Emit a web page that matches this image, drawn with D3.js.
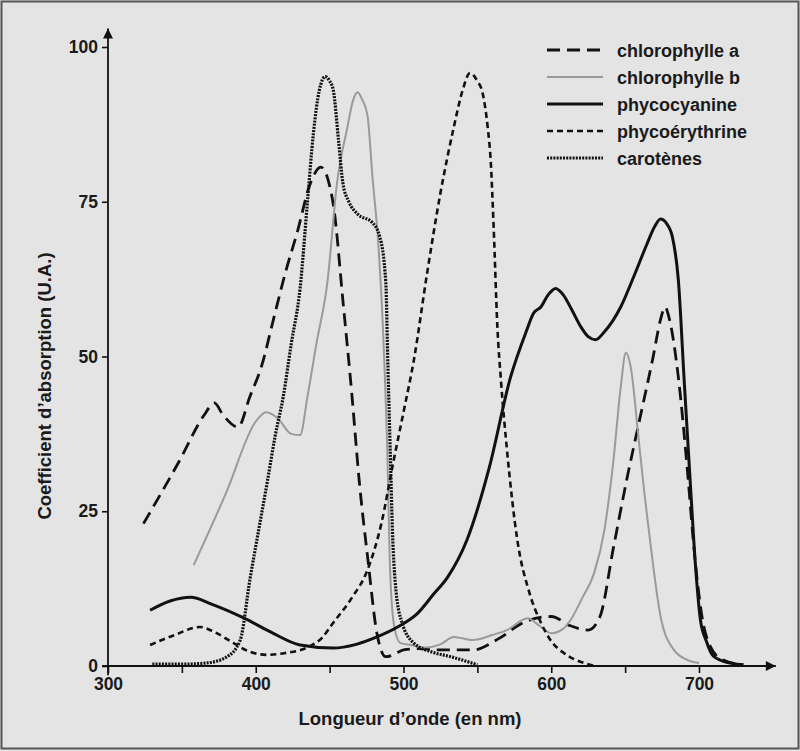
<!DOCTYPE html>
<html>
<head>
	<meta charset="utf-8">
	<title>Spectres d'absorption</title>
	<script src="https://d3js.org/d3.v7.min.js"></script>
	<style>
		body { margin: 0; background: #e4e4e4; }
		text { font-family: "Liberation Sans", Arial, sans-serif; font-weight: bold; fill: #1a1a1a; }
	</style>
</head>
<body>
</body>
<script>
	// wavelength (nm), absorption (U.A.)
	var chloroA = [[324,23],[348,33],[365,40.5],[372,42.5],[378,40.5],[388,38.6],[396,43.5],[404,48.5],[412,56],[420,63.5],[428,70],[437,78],[444,80.6],[449,78.5],[453,73.7],[459,59],[465,44],[470,30],[476,17],[482,5.3],[488,1.5],[493,1.8],[500,2.6],[510,2.8],[525,2.6],[547,2.6],[565,4.5],[581,7],[600,8],[613,6.5],[625,5.8],[633,8],[642,19],[651,30],[660,40],[669,50],[674,56],[677,58],[680,56],[686,46.7],[692,32],[697,18],[702,8],[708,3],[716,1],[730,0.2]];
	var chloroB = [[358,16.3],[380,28],[400,39.5],[407,41],[415,40],[424,37.5],[430,37.3],[435,43.5],[441,52],[448.5,62],[455,78],[462,87],[466,91.5],[469,92.7],[472,91.5],[475.6,89],[479,79],[483,68],[486,55],[489,35],[491,15],[494,6],[498,3.7],[505,3.4],[515,3],[525,3.5],[534,4.7],[547,4.2],[560,5],[570,5.8],[584,7.7],[592,6.5],[600,5.3],[608,6],[613,7.4],[621,11],[629,15],[636,22],[642,33],[647,45],[650.5,50.6],[654,48],[659,37],[663,28],[667,20],[674,8],[683,2.6],[692,1],[700,0.5]];
	var phycocyanine = [[328.5,9],[342,10.5],[356,11.1],[370,10],[391.5,7.8],[410,5.5],[430,3.4],[452.5,2.9],[468,3.5],[482,4.7],[496,6.3],[509.5,8.5],[520,11.5],[530,14.4],[543,20.4],[558,32],[572.5,46.7],[583,54],[588,57],[593,58],[598,60],[603,61],[608,60],[614,57.5],[620,54.8],[625,53.2],[630,52.7],[636,54],[647,58],[656,63],[665,68.3],[670,71],[674,72.2],[678,71.5],[682,69.3],[686,62.4],[690,46],[694,30],[698,15],[701,7.4],[705,4],[709,1.8],[716,0.8],[730,0.2]];
	var phycoerythrine = [[328.5,3.4],[345,5],[362,6.3],[372,5.5],[385,3.7],[396,2.3],[408,1.8],[420,2.1],[435,3],[445,4.6],[452.5,7],[465,11],[475.6,15.5],[485,23],[493,32.8],[500,41],[507,49.4],[516,63.5],[525,76.4],[534,87],[540,93],[545,95.8],[550,94.5],[553.5,92.6],[557,87],[559,81.7],[561,71],[563.5,55],[566,46],[570,35],[577,20.4],[585,12],[593,7],[600,4],[608.5,2.1],[622,0.5],[630,0]];
	var carotenes = [[330,0.3],[350,0.3],[367,0.5],[380.6,1.5],[389.5,4.2],[396,13.9],[402,22],[408,30],[413,37],[418.6,43.5],[424,52],[430,61],[435,75],[439,86],[443,93],[447,95.2],[450,94.5],[452.5,93],[456,85],[459,78],[463,75],[469,73],[479,71.6],[484,69.3],[488,62],[489.5,48],[491,35],[492.5,22],[495,12],[499,7],[507,3.7],[520,2.2],[532,1.5],[550,0.2]];

	var seriesNames = ["chlorophylle a", "chlorophylle b", "phycocyanine", "phycoérythrine", "carotènes"];
	var xTicks = [300, 350, 400, 450, 500, 550, 600, 650, 700];
	var xTickLabels = [300, 400, 500, 600, 700];
	var yTicks = [0, 25, 50, 75, 100];

	var width = 800, height = 751;
	var styles = [
		{stroke: "#111", width: 2.8, dash: "13,7"},
		{stroke: "#9a9a9a", width: 2, dash: null},
		{stroke: "#111", width: 3, dash: null},
		{stroke: "#111", width: 2.6, dash: "6,4"},
		{stroke: "#111", width: 3.2, dash: "2,1.2"}
	];
	var allData = [chloroA, chloroB, phycocyanine, phycoerythrine, carotenes];

	var svg = d3.select("body").append("svg").attr("width", width).attr("height", height);

	svg.append("rect").attr("x", 1.5).attr("y", 1.5).attr("width", width - 3).attr("height", height - 4)
		.attr("fill", "#e4e4e4").attr("stroke", "#555").attr("stroke-width", 2);

	var x = d3.scaleLinear().domain([300, 700]).range([108, 699]);
	var y = d3.scaleLinear().domain([0, 100]).range([666, 47]);

	// arrow heads
	var defs = svg.append("defs");
	defs.append("marker").attr("id", "arrow").attr("viewBox", "0 0 10 10").attr("refX", 10).attr("refY", 5)
		.attr("markerWidth", 14).attr("markerHeight", 10).attr("markerUnits", "userSpaceOnUse").attr("orient", "auto")
		.append("path").attr("d", "M0,0L10,5L0,10z").attr("fill", "#111");

	// axes
	var xAxis = d3.axisBottom(x).tickValues(xTicks).tickSize(7).tickPadding(5)
		.tickFormat(function(d){ return xTickLabels.indexOf(d) >= 0 ? d : ""; });
	var yAxis = d3.axisLeft(y).tickValues(yTicks).tickSize(6).tickPadding(4);

	var xAxisG = svg.append("g").attr("transform", "translate(0," + y(0) + ")").call(xAxis);
	var yAxisG = svg.append("g").attr("transform", "translate(" + x(300) + ",0)").call(yAxis);
	[xAxisG, yAxisG].forEach(function(g){
		g.select(".domain").remove();
		g.selectAll("line").attr("stroke", "#111").attr("stroke-width", 1.6);
		g.selectAll("text").attr("font-size", 17.5).attr("font-family", "Liberation Sans, Arial, sans-serif").attr("font-weight", "bold").attr("fill", "#1a1a1a");
	});

	svg.append("line").attr("x1", x(296)).attr("x2", x(752)).attr("y1", y(0)).attr("y2", y(0))
		.attr("stroke", "#111").attr("stroke-width", 1.8).attr("marker-end", "url(#arrow)");
	svg.append("line").attr("x1", x(300)).attr("x2", x(300)).attr("y1", y(-1.5)).attr("y2", y(103))
		.attr("stroke", "#111").attr("stroke-width", 1.8).attr("marker-end", "url(#arrow)");

	// curves
	var line = d3.line().x(function(d){ return x(d[0]); }).y(function(d){ return y(d[1]); }).curve(d3.curveMonotoneX);
	allData.forEach(function(data, i){
		svg.append("path").datum(data).attr("d", line).attr("fill", "none")
			.attr("stroke", styles[i].stroke).attr("stroke-width", styles[i].width)
			.attr("stroke-dasharray", styles[i].dash).attr("stroke-linejoin", "round");
	});

	// legend
	var legend = svg.append("g").attr("transform", "translate(547,50)");
	seriesNames.forEach(function(name, i){
		var row = legend.append("g").attr("transform", "translate(0," + (i * 27) + ")");
		row.append("line").attr("x1", 0).attr("x2", 56).attr("y1", 0).attr("y2", 0)
			.attr("stroke", styles[i].stroke).attr("stroke-width", styles[i].width)
			.attr("stroke-dasharray", styles[i].dash);
		row.append("text").attr("x", 70).attr("y", 6.5).attr("font-size", 18).text(name);
	});

	// axis titles
	svg.append("text").attr("x", 410).attr("y", 725).attr("text-anchor", "middle").attr("font-size", 18.5)
		.text("Longueur d’onde (en nm)");
	svg.append("text").attr("transform", "translate(51,386) rotate(-90)").attr("text-anchor", "middle")
		.attr("font-size", 18.5).text("Coefficient d’absorption (U.A.)");
</script>
</html>
